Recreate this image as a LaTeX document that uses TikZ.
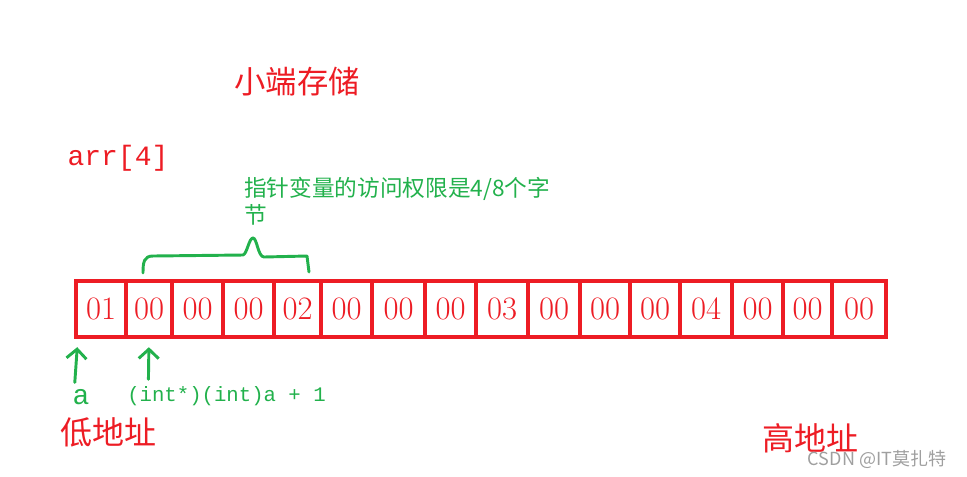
\documentclass[tikz,border=0pt]{standalone}
\usepackage{fontspec}
\newfontfamily\cjk{Noto Sans CJK SC}
\newfontfamily\codefont{Liberation Mono}
\usetikzlibrary{arrows.meta}
\definecolor{paintred}{RGB}{237,28,36}
\definecolor{paintgreen}{RGB}{34,177,76}
\tikzset{
  cellbox/.style={draw=paintred, line width=3.3pt, inner sep=0pt, text=paintred, font=\fontsize{24.5}{28}\selectfont, minimum height=42pt},
  redlabel/.style={inner sep=0pt, text=paintred},
  greenlabel/.style={inner sep=0pt, text=paintgreen},
  ptrarrow/.style={draw=paintgreen, line width=2.2pt, line cap=round, -{Straight Barb[length=7pt,width=15pt]}},
  bracestroke/.style={draw=paintgreen, line width=2.2pt, line cap=round, line join=round},
}

\begin{document}
\begin{tikzpicture}[x=0.75pt,y=0.75pt,yscale=-1,xscale=1]
    \useasboundingbox (0,0) rectangle (967,476);

    %Shape: Cells of arr
    \foreach \l/\r/\v [count=\i] in {76/126/01,126/172/00,172/223/00,223/274/00,274/321/02,321/372/00,372/425/00,425/476/00,476/528/03,528/580/00,580/630/00,630/680/00,680/732/04,732/783/00,783/832/00,832/886/00}
        \node[cellbox, minimum width={(\r-\l)*0.75pt}] (c\i) at ({(\l+\r)/2},309) {\v};

    %Curve Lines: brace over 4 bytes
    \draw[bracestroke] (143,273) .. controls (143,262) and (144,256) .. (153,256) -- (243,255) .. controls (247,254) and (249,238) .. (253,238) .. controls (257,238) and (258,257) .. (264,257) -- (307,256) -- (309,272);

    % Text Node
    \node[redlabel, font=\cjk\fontsize{23.5}{28}\selectfont] (title) at (297,82) {小端存储};
    % Text Node
    \node[redlabel, font=\codefont\fontsize{21}{24}\selectfont] (arrname) at (118,158) {arr[4]};
    % Text Node
    \node[greenlabel, anchor=north west, align=left, font=\cjk\fontsize{17}{20}\selectfont] (hint) at (244,177) {指针变量的访问权限是4/8个字\\节};
    % Text Node
    \node[greenlabel, font=\codefont\fontsize{21}{24}\selectfont] (lbla) at (81,397) {a};
    % Text Node
    \node[greenlabel, anchor=north west, font=\codefont\fontsize{15.5}{18}\selectfont] (lblp) at (127,386) {(int*)(int)a + 1};
    % Text Node
    \node[redlabel, font=\cjk\fontsize{24}{28}\selectfont] (lowaddr) at (108,432) {低地址};
    % Text Node
    \node[redlabel, font=\cjk\fontsize{24}{28}\selectfont] (highaddr) at (810,438) {高地址};

    %Arrows
    \draw[ptrarrow, shorten <=5pt, shorten >=6pt] ([xshift=-5pt]lbla.north) -- ([xshift=3pt]c1.south west);
    \draw[ptrarrow, shorten <=5pt, shorten >=6pt] ([xshift=16pt]lblp.north west) -- (c2.south);

    % Text Node
    \node[inner sep=0pt, text=gray!75, font=\cjk\fontsize{13.5}{15}\selectfont] (mark) at (877,459) {CSDN @IT莫扎特};
\end{tikzpicture}
\end{document}
